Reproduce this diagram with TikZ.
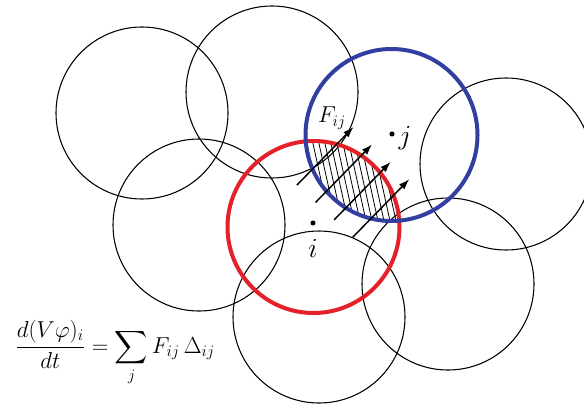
\documentclass[tikz,border=0pt]{standalone}
\usepackage{amsmath}
\usetikzlibrary{arrows.meta,positioning}
\definecolor{cellred}{RGB}{228,32,40}
\definecolor{cellblue}{RGB}{50,62,160}

\begin{document}
\begin{tikzpicture}[x=0.75pt, y=-0.75pt, font=\LARGE,
  cell/.style={draw=black, line width=0.8pt},
  hatchline/.style={line width=0.6pt},
  flux/.style={-{Latex[length=8pt,width=5.5pt]}, line width=1.1pt},
  dot/.style={circle, fill=black, inner sep=0pt, minimum size=3.8pt}]
  \useasboundingbox (0,0) rectangle (584,403);
  \clip (0,0) rectangle (584,403);

  % neighbouring cells
  \foreach \cx/\cy in {142/113, 272/92, 199/225, 506/164, 319/317, 448/284}
    \draw[cell] (\cx,\cy) circle[radius=64.5pt];

  \coordinate (ci) at (313.5,227);
  \coordinate (cj) at (391.5,135);

  % overlap of i and j
  \begin{scope}
    \clip (ci) circle[radius=64.5pt];
    \clip (cj) circle[radius=64.5pt];
    \foreach \h in {280,286,...,420}
      \draw[hatchline] (\h,130) -- (\h+22,230);
  \end{scope}

  \draw[cellred, line width=3pt] (ci) circle[radius=64.5pt];
  \draw[cellblue, line width=3pt] (cj) circle[radius=64.5pt];

  % fluxes
  \foreach \k in {0,...,3} {
    \coordinate (s\k) at (297+18.6*\k, 185+17.4*\k);
    \coordinate (t\k) at (353.5+18.6*\k, 127+17.4*\k);
    \draw[flux] (s\k) -- (t\k);
  }

  \node[dot] (pi) at (313,223) {};
  \node[font=\huge] (li) at (313,248) {$i$};
  \node[dot] (pj) at (392,134) {};
  \node[font=\huge] (lj) at (405,138) {$j$};
  \node (fij) at (332,118) {$F_{ij}$};

  \node[anchor=base west, inner sep=0pt, font=\fontsize{16.5}{20}\selectfont] (eq) at (15,353)
    {$\displaystyle \frac{d(V\varphi)_i}{dt} = \sum_j F_{ij}\,\Delta_{ij}$};
\end{tikzpicture}
\end{document}
